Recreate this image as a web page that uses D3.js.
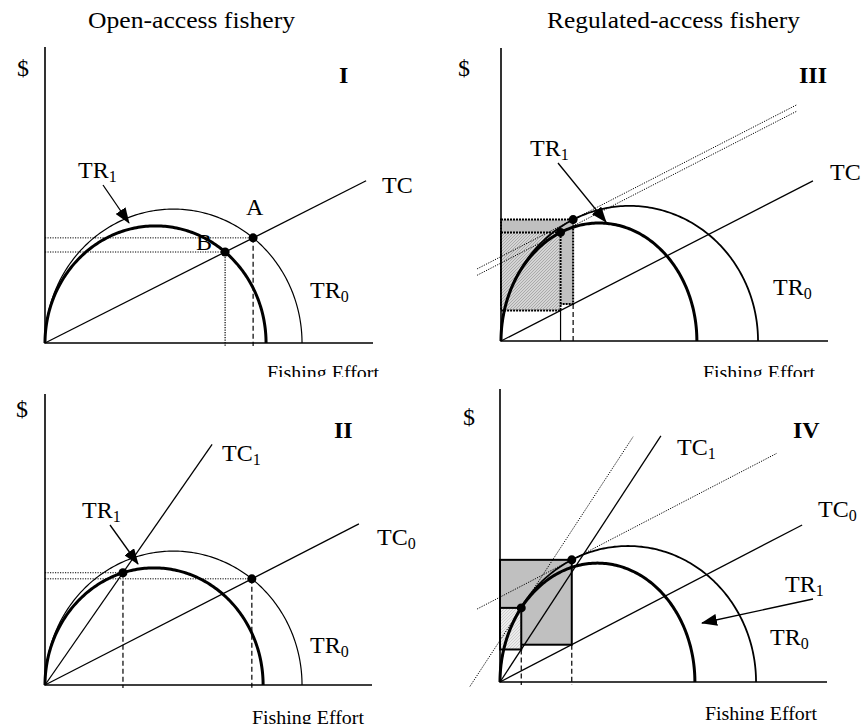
<!DOCTYPE html>
<html>
<head>
<meta charset="utf-8">
<script src="https://cdn.jsdelivr.net/npm/d3@7"></script>
<style>
  body { margin: 0; background: #fff; }
  svg text { font-family: "Liberation Serif", "Times New Roman", serif; fill: #000; }
</style>
</head>
<body>
<div id="chart"></div>
<script>
// Fishery diagrams: effort (0-10) vs $ (0-10), four panels

// revenue curves, [panel, effort where TR returns to zero, peak revenue]
const tr0Curves = [["I", 7.86, 4.54], ["II", 7.86, 4.54], ["III", 7.86, 4.58], ["IV", 7.83, 4.61]];
const tr1Curves = [["I", 6.76, 3.97], ["II", 6.67, 3.97], ["III", 5.99, 4.00], ["IV", 5.96, 4.03]];

// cost lines through the origin, [panel, name, slope, effort at line end]
const costLines = [
  ["I", "TC", 0.560, 9.82],
  ["II", "TC0", 0.569, 9.60],
  ["II", "TC1", 1.596, 5.11],
  ["III", "TC", 0.569, 9.54],
  ["IV", "TC0", 0.576, 9.24],
  ["IV", "TC1", 1.696, 4.92]
];

// open-access equilibria, TR = TC, [panel, curve, cost line, vertical style]
const equilibria = [
  ["I", "TR0", "TC", "dashed"],
  ["I", "TR1", "TC", "dotted"],
  ["II", "TR1", "TC1", "dashed"],
  ["II", "TR0", "TC0", "dashed"]
];

// regulated optimum, tangent parallel to cost line, [panel, curve, cost line, effort from, effort to]
const tangents = [
  ["III", "TR0", "TC", -0.73, 9.05],
  ["III", "TR1", "TC", -0.73, 9.05],
  ["IV", "TR1", "TC1", -0.92, 4.07],
  ["IV", "TR0", "TC0", -0.70, 8.47]
];

const titles = [["Open-access fishery", 88, 28, 207], ["Regulated-access fishery", 547, 28, 253]];

// panel frames in pixels
const layout = {
  I:   { ox: 45,  oy: 343, top: 47,  right: 373 },
  II:  { ox: 45,  oy: 685, top: 394, right: 372 },
  III: { ox: 501, oy: 341, top: 48,  right: 828 },
  IV:  { ox: 500, oy: 682, top: 389, right: 827 }
};

// text labels: [text, sub, x, y, kind]
const labels = [
  ["$", "", 17, 76, "dollar"], ["I", "", 339, 83, "roman"],
  ["TR", "1", 78, 178, "lab"], ["TC", "", 382, 193, "lab"], ["A", "", 246, 215, "lab"],
  ["B", "", 196, 250, "lab"], ["TR", "0", 310, 298, "lab"],
  ["$", "", 458, 76, "dollar"], ["III", "", 799, 83, "roman"],
  ["TR", "1", 530, 156, "lab"], ["TC", "", 830, 180, "lab"], ["TR", "0", 773, 295, "lab"],
  ["$", "", 16, 417, "dollar"], ["II", "", 334, 438, "roman"],
  ["TC", "1", 222, 461, "lab"], ["TR", "1", 82, 518, "lab"], ["TC", "0", 377, 545, "lab"],
  ["TR", "0", 310, 653, "lab"],
  ["$", "", 463, 425, "dollar"], ["IV", "", 793, 438, "roman"],
  ["TC", "1", 677, 455, "lab"], ["TC", "0", 818, 517, "lab"], ["TR", "1", 785, 592, "lab"],
  ["TR", "0", 770, 645, "lab"]
];

// "Fishing Effort" captions: [x, baseline, clip bottom]
const effortCaptions = [[267, 379, 377], [703, 379, 377], [252, 724, 724], [705, 720, 720]];

// arrows pointing at TR1: [x1, y1, x2, y2]
const arrows = [[103, 185, 129, 223], [558, 163, 606, 222], [110, 525, 138, 564], [813, 599, 702, 623]];

const W = 863, H = 728;
const svg = d3.select("#chart").append("svg").attr("width", W).attr("height", H);
const defs = svg.append("defs");

defs.append("marker").attr("id", "head")
  .attr("viewBox", "0 0 16 12").attr("refX", 15).attr("refY", 6)
  .attr("markerWidth", 16).attr("markerHeight", 12).attr("markerUnits", "userSpaceOnUse")
  .attr("orient", "auto")
  .append("path").attr("d", "M0,0 L16,6 L0,12 Z").attr("fill", "#000");

let hatch = defs.append("pattern").attr("id", "hatch").attr("width", 3).attr("height", 3)
  .attr("patternUnits", "userSpaceOnUse");
hatch.append("rect").attr("width", 3).attr("height", 3).attr("fill", "#d4d4d4");
hatch.append("path").attr("d", "M0,3 L3,0").attr("stroke", "#a0a0a0").attr("stroke-width", 0.8);

let hatchLight = defs.append("pattern").attr("id", "hatchLight").attr("width", 3).attr("height", 3)
  .attr("patternUnits", "userSpaceOnUse");
hatchLight.append("rect").attr("width", 3).attr("height", 3).attr("fill", "#ececec");
hatchLight.append("path").attr("d", "M0,3 L3,0").attr("stroke", "#c4c4c4").attr("stroke-width", 0.7);

const scales = {};
Object.keys(layout).forEach(function(p) {
  let L = layout[p];
  scales[p] = {
    x: d3.scaleLinear().domain([0, 10]).range([L.ox, L.ox + 327]),
    y: d3.scaleLinear().domain([0, 10]).range([L.oy, L.oy - 295])
  };
});

function findCurve(p, name) {
  let arr = name === "TR0" ? tr0Curves : tr1Curves;
  let c = arr.find(function(d) { return d[0] === p; });
  return { a: c[1] / 2, b: c[2] };
}
function findCost(p, name) {
  return costLines.find(function(d) { return d[0] === p && d[1] === name; });
}

// where a ray y = m*x cuts the half-ellipse
function crossing(c, m) {
  let e = (2 / c.a) / (1 / (c.a * c.a) + (m * m) / (c.b * c.b));
  return [e, m * e];
}
// point of the half-ellipse whose slope equals m
function tangentPoint(c, m) {
  let k = m * c.a / c.b;
  let u = -k / Math.sqrt(1 + k * k);
  return [c.a + c.a * u, c.b * Math.sqrt(1 - u * u)];
}

const line = d3.line();

// regulated rectangles (drawn first so lines sit on top)
function regRect(p, outer, inner, outerFill, innerFill, dash) {
  let s = scales[p];
  [outer, inner].forEach(function(t, i) {
    let c = findCurve(p, t[1]);
    let m = findCost(p, t[2])[2];
    let tp = tangentPoint(c, m);
    let cost = m * tp[0];
    svg.append("rect")
      .attr("x", s.x(0)).attr("y", s.y(tp[1]))
      .attr("width", s.x(tp[0]) - s.x(0)).attr("height", s.y(cost) - s.y(tp[1]))
      .attr("fill", i === 0 ? outerFill : innerFill)
      .attr("stroke", "#000").attr("stroke-width", 2)
      .attr("stroke-dasharray", dash);
  });
}
regRect("III", tangents[0], tangents[1], "#c0c0c0", "url(#hatch)", "2,1");
// IV: the outer box uses the shallow TC0 tangent, the inner uses TC1
regRect("IV", tangents[3], tangents[2], "#c0c0c0", "url(#hatchLight)", null);

// vertical drops from regulated optima
tangents.forEach(function(t) {
  let s = scales[t[0]];
  let c = findCurve(t[0], t[1]);
  let m = findCost(t[0], t[2])[2];
  let tp = tangentPoint(c, m);
  let solid = t[0] === "III" && t[1] === "TR1";
  svg.append("path")
    .attr("d", line([[s.x(tp[0]), s.y(m * tp[0])], [s.x(tp[0]), s.y(0) + (t[0] === "IV" ? 3 : 0)]]))
    .attr("stroke", "#000").attr("stroke-width", 1.2).attr("fill", "none")
    .attr("stroke-dasharray", solid ? null : "5,3");
});

// tangent (dotted) lines
tangents.forEach(function(t) {
  let s = scales[t[0]];
  let c = findCurve(t[0], t[1]);
  let m = findCost(t[0], t[2])[2];
  let tp = tangentPoint(c, m);
  let pts = [t[3], t[4]].map(function(e) { return [s.x(e), s.y(tp[1] + m * (e - tp[0]))]; });
  svg.append("path").attr("d", line(pts))
    .attr("stroke", "#000").attr("stroke-width", 1).attr("fill", "none")
    .attr("stroke-dasharray", "1.2,1.3");
});

// open-access guides
equilibria.forEach(function(q) {
  let s = scales[q[0]];
  let c = findCurve(q[0], q[1]);
  let m = findCost(q[0], q[2])[2];
  let pt = crossing(c, m);
  svg.append("path")
    .attr("d", line([[s.x(0), s.y(pt[1])], [s.x(pt[0]), s.y(pt[1])]]))
    .attr("stroke", "#000").attr("stroke-width", 1).attr("fill", "none")
    .attr("stroke-dasharray", "1.2,1.3");
  svg.append("path")
    .attr("d", line([[s.x(pt[0]), s.y(pt[1])], [s.x(pt[0]), s.y(0) + 3]]))
    .attr("stroke", "#000").attr("stroke-width", 1.2).attr("fill", "none")
    .attr("stroke-dasharray", q[3] === "dashed" ? "5,3" : "1.2,1.3");
});

// axes
Object.keys(layout).forEach(function(p) {
  let L = layout[p];
  svg.append("path").attr("d", line([[L.ox, L.top], [L.ox, L.oy], [L.right, L.oy]]))
    .attr("stroke", "#000").attr("stroke-width", 1.6).attr("fill", "none");
});

// cost lines
costLines.forEach(function(d) {
  let s = scales[d[0]];
  svg.append("path").attr("d", line([[s.x(0), s.y(0)], [s.x(d[3]), s.y(d[2] * d[3])]]))
    .attr("stroke", "#000").attr("stroke-width", 1.3).attr("fill", "none");
});

// revenue curves
function drawTR(arr, widthFor) {
  arr.forEach(function(d) {
    let s = scales[d[0]];
    let c = { a: d[1] / 2, b: d[2] };
    let pts = d3.range(0, 181).map(function(i) {
      let t = i * Math.PI / 180;
      return [s.x(c.a * (1 - Math.cos(t))), s.y(c.b * Math.sin(t))];
    });
    svg.append("path").attr("d", line(pts))
      .attr("stroke", "#000").attr("stroke-width", widthFor(d[0])).attr("fill", "none");
  });
}
drawTR(tr0Curves, function(p) { return (p === "III" || p === "IV") ? 1.8 : 1.2; });
drawTR(tr1Curves, function() { return 3; });

// dots
equilibria.forEach(function(q) {
  let s = scales[q[0]];
  let pt = crossing(findCurve(q[0], q[1]), findCost(q[0], q[2])[2]);
  svg.append("circle").attr("cx", s.x(pt[0])).attr("cy", s.y(pt[1])).attr("r", 4.5).attr("fill", "#000");
});
tangents.forEach(function(t) {
  let s = scales[t[0]];
  let tp = tangentPoint(findCurve(t[0], t[1]), findCost(t[0], t[2])[2]);
  svg.append("circle").attr("cx", s.x(tp[0])).attr("cy", s.y(tp[1])).attr("r", 4.5).attr("fill", "#000");
});

// arrows
arrows.forEach(function(a) {
  svg.append("line").attr("x1", a[0]).attr("y1", a[1]).attr("x2", a[2]).attr("y2", a[3])
    .attr("stroke", "#000").attr("stroke-width", 1.3).attr("marker-end", "url(#head)");
});

// texts
titles.forEach(function(t) {
  svg.append("text").attr("x", t[1]).attr("y", t[2]).attr("font-size", 24)
    .attr("textLength", t[3]).attr("lengthAdjust", "spacingAndGlyphs").text(t[0]);
});

labels.forEach(function(l) {
  let size = l[4] === "lab" ? 24 : (l[4] === "roman" ? 24 : 24);
  let txt = svg.append("text").attr("x", l[2]).attr("y", l[3]).attr("font-size", size)
    .attr("font-weight", l[4] === "roman" ? "bold" : null);
  txt.append("tspan").text(l[0]);
  if (l[1]) {
    txt.append("tspan").attr("font-size", 16).attr("dy", 4).text(l[1]);
  }
});

effortCaptions.forEach(function(c, i) {
  defs.append("clipPath").attr("id", "cap" + i)
    .append("rect").attr("x", c[0] - 5).attr("y", c[1] - 25).attr("width", 130).attr("height", c[2] - (c[1] - 25));
  svg.append("text").attr("x", c[0]).attr("y", c[1]).attr("font-size", 19)
    .attr("textLength", 112).attr("lengthAdjust", "spacingAndGlyphs")
    .attr("clip-path", "url(#cap" + i + ")")
    .text("Fishing Effort");
});
</script>
</body>
</html>
